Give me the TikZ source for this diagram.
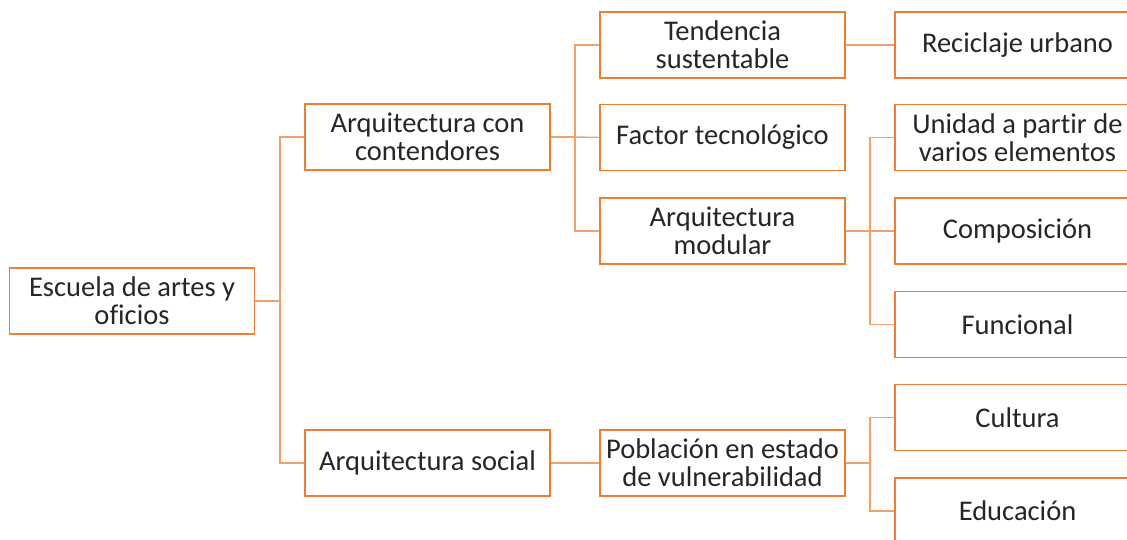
\documentclass[tikz,border=0pt]{standalone}
\usepackage{fontspec}
\setmainfont[Ligatures=NoCommon]{Carlito}
\definecolor{boxc}{HTML}{ED7D31}
\definecolor{linec}{HTML}{F0A068}
\begin{document}
\begin{tikzpicture}[x=1pt,y=-1pt,
  box/.style={draw=boxc,line width=1.4pt,fill=white,minimum width=245pt,minimum height=66pt,
    align=center,inner sep=1pt,font=\fontsize{28.5}{28}\selectfont,text=black!85},
  conn/.style={draw=linec,line width=1.4pt}]
\clip (0,0) rectangle (1127,540);
\fill[white] (0,0) rectangle (1127,540);
% nodes
\node[box] (esc) at (132,301) {Escuela de artes y\\oficios};
\node[box] (acc) at (427.5,137) {Arquitectura con\\contendores};
\node[box] (aso) at (427.5,463) {Arquitectura social};
\node[box] (ten) at (722.5,45) {Tendencia\\sustentable};
\node[box] (fac) at (722.5,137.5) {Factor tecnológico};
\node[box] (mod) at (722.5,231) {Arquitectura\\modular};
\node[box] (pob) at (722.5,463) {Población en estado\\de vulnerabilidad};
\node[box] (rec) at (1017.5,45) {Reciclaje urbano};
\node[box] (uni) at (1017.5,137.5) {Unidad a partir de\\varios elementos};
\node[box] (com) at (1017.5,231) {Composición};
\node[box] (fun) at (1017.5,324.5) {Funcional};
\node[box] (cul) at (1017.5,417.5) {Cultura};
\node[box] (edu) at (1017.5,511) {Educación};
% connectors
\draw[conn] (esc.east) -- (280,301);
\draw[conn] (acc.west) -| (280,301) |- (aso.west);
\draw[conn] (acc.east) -- (575,137);
\draw[conn] (ten.west) -| (575,137) |- (mod.west);
\draw[conn] (575,137) -- (fac.west);
\draw[conn] (ten.east) -- (rec.west);
\draw[conn] (mod.east) -- (870,231);
\draw[conn] (uni.west) -| (870,231) |- (fun.west);
\draw[conn] (870,231) -- (com.west);
\draw[conn] (aso.east) -- (pob.west);
\draw[conn] (pob.east) -- (870,463);
\draw[conn] (cul.west) -| (870,463) |- (edu.west);
\end{tikzpicture}
\end{document}
